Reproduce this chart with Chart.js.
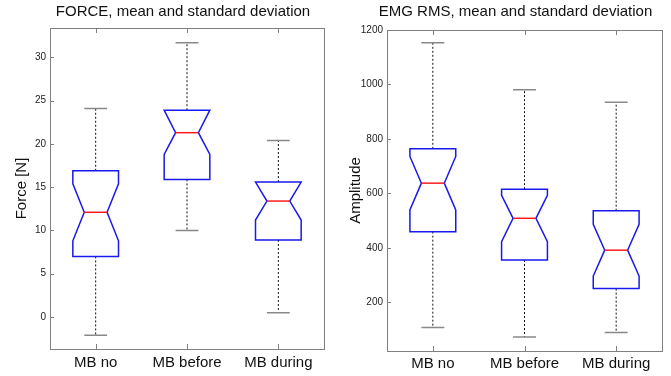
<!DOCTYPE html>
<html>
<head>
<meta charset="utf-8">
<script src="https://cdn.jsdelivr.net/npm/chart.js@4.4.0/dist/chart.umd.min.js"></script>
<style>
    body { margin: 0; background: #fff; }
    #wrap { position: relative; width: 671px; height: 376px; }
    canvas { position: absolute; top: 0; }
</style>
</head>
<body>
<div id="wrap">
    <canvas id="forceChart" width="335" height="376" style="left:0"></canvas>
    <canvas id="emgChart" width="336" height="376" style="left:335px"></canvas>
</div>
<script>
const groups = ['MB no', 'MB before', 'MB during'];

// FORCE [N]
const forceMin = [-2.1, 10.0, 0.5];
const forceQ1 = [7.0, 15.9, 8.9];
const forceMedian = [12.1, 21.3, 13.4];
const forceQ3 = [16.9, 23.9, 15.6];
const forceMax = [24.1, 31.7, 20.4];
const forceNotchLow = [8.8, 18.8, 11.2];
const forceNotchHigh = [15.4, 23.9, 15.6];
const forceTicks = [0, 5, 10, 15, 20, 25, 30];

// EMG RMS amplitude
const emgMin = [108, 73, 90];
const emgQ1 = [460, 356, 251];
const emgMedian = [638, 509, 392];
const emgQ3 = [764, 616, 537];
const emgMax = [1153, 981, 935];
const emgNotchLow = [540, 423, 297];
const emgNotchHigh = [736, 593, 487];
const emgTicks = [200, 400, 600, 800, 1000, 1200];

const axisGray = '#808080';

// draws the notched boxes on top of the (invisible) floating bars
const notchBoxPlugin = {
    id: 'notchBox',
    afterDatasetsDraw(chart) {
        const st = chart.options.plugins.notchBox;
        const meta = chart.getDatasetMeta(0);
        const y = chart.scales.y;
        const ctx = chart.ctx;
        ctx.save();
        meta.data.forEach(function (bar, i) {
            const x = bar.x;
            const h = bar.width / 2;
            const yMin = y.getPixelForValue(st.min[i]);
            const yMax = y.getPixelForValue(st.max[i]);
            const yQ1 = y.getPixelForValue(st.q1[i]);
            const yQ3 = y.getPixelForValue(st.q3[i]);
            const yMed = y.getPixelForValue(st.median[i]);
            const yNl = y.getPixelForValue(Math.max(st.notchLow[i], st.q1[i]));
            const yNh = y.getPixelForValue(Math.min(st.notchHigh[i], st.q3[i]));

            // whiskers
            ctx.strokeStyle = '#111';
            ctx.lineWidth = 1;
            ctx.setLineDash([2, 2]);
            ctx.beginPath();
            ctx.moveTo(x, yQ3); ctx.lineTo(x, yMax);
            ctx.moveTo(x, yQ1); ctx.lineTo(x, yMin);
            ctx.stroke();
            ctx.setLineDash([]);

            // caps
            ctx.strokeStyle = '#888';
            ctx.lineWidth = 1.5;
            ctx.beginPath();
            ctx.moveTo(x - h / 2, yMax); ctx.lineTo(x + h / 2, yMax);
            ctx.moveTo(x - h / 2, yMin); ctx.lineTo(x + h / 2, yMin);
            ctx.stroke();

            // notched box
            ctx.fillStyle = '#fff';
            ctx.strokeStyle = 'rgb(25,25,235)';
            ctx.lineWidth = 1.5;
            ctx.beginPath();
            ctx.moveTo(x - h, yQ3);
            ctx.lineTo(x + h, yQ3);
            ctx.lineTo(x + h, yNh);
            ctx.lineTo(x + h / 2, yMed);
            ctx.lineTo(x + h, yNl);
            ctx.lineTo(x + h, yQ1);
            ctx.lineTo(x - h, yQ1);
            ctx.lineTo(x - h, yNl);
            ctx.lineTo(x - h / 2, yMed);
            ctx.lineTo(x - h, yNh);
            ctx.closePath();
            ctx.fill();
            ctx.stroke();

            // median
            ctx.strokeStyle = '#ff1a1a';
            ctx.beginPath();
            ctx.moveTo(x - h / 2, yMed); ctx.lineTo(x + h / 2, yMed);
            ctx.stroke();
        });
        ctx.restore();
    },
    afterDraw(chart) {
        // matlab-like frame with inward ticks and a title over the axes
        const a = chart.chartArea;
        const ctx = chart.ctx;
        const st = chart.options.plugins.notchBox;
        ctx.save();
        ctx.strokeStyle = axisGray;
        ctx.lineWidth = 1;
        ctx.strokeRect(Math.round(a.left) + 0.5, Math.round(a.top) + 0.5,
            Math.round(a.right - a.left), Math.round(a.bottom - a.top));
        ctx.beginPath();
        chart.scales.y.ticks.forEach(function (t) {
            const py = Math.round(chart.scales.y.getPixelForValue(t.value)) + 0.5;
            ctx.moveTo(a.left, py); ctx.lineTo(a.left + 4, py);
        });
        chart.getDatasetMeta(0).data.forEach(function (bar) {
            const px = Math.round(bar.x) + 0.5;
            ctx.moveTo(px, a.bottom); ctx.lineTo(px, a.bottom - 5);
            ctx.moveTo(px, a.top); ctx.lineTo(px, a.top + 5);
        });
        ctx.stroke();

        ctx.fillStyle = '#111';
        ctx.font = '15px "Liberation Sans", Arial, sans-serif';
        ctx.textAlign = 'center';
        ctx.textBaseline = 'middle';
        ctx.fillText(st.title, (a.left + a.right) / 2 + st.titleShift, 12);
        ctx.restore();
    }
};

function makeBoxChart(canvasId, stats, yOpts, layout) {
    const ctx = document.getElementById(canvasId).getContext('2d');
    return new Chart(ctx, {
        type: 'bar',
        data: {
            labels: groups,
            datasets: [{
                label: stats.title,
                data: stats.q1.map(function (q, i) { return [q, stats.q3[i]]; }),
                backgroundColor: 'rgba(0,0,0,0)',
                borderWidth: 0,
                barPercentage: 0.5,
                categoryPercentage: 1
            }]
        },
        options: {
            responsive: false,
            animation: false,
            layout: { padding: layout.padding },
            scales: {
                x: {
                    grid: { display: false, drawTicks: false },
                    border: { display: false },
                    ticks: {
                        color: '#111',
                        padding: layout.xPad,
                        font: { family: '"Liberation Sans", Arial, sans-serif', size: 15 }
                    },
                    afterFit: function (scale) { scale.height = layout.xHeight; }
                },
                y: {
                    min: yOpts.min,
                    max: yOpts.max,
                    afterBuildTicks: function (scale) {
                        scale.ticks = yOpts.ticks.map(function (v) { return { value: v }; });
                    },
                    grid: { display: false, drawTicks: false },
                    border: { display: false },
                    ticks: {
                        color: '#222',
                        padding: 4,
                        font: { family: '"Liberation Sans", Arial, sans-serif', size: 10 },
                        callback: function (v) { return String(v); }
                    },
                    title: {
                        display: true,
                        text: yOpts.title,
                        color: '#111',
                        padding: { top: layout.titlePad, bottom: 0 },
                        font: { family: '"Liberation Sans", Arial, sans-serif', size: 15 }
                    },
                    afterFit: function (scale) { scale.width = layout.yWidth; }
                }
            },
            plugins: {
                legend: { display: false },
                tooltip: { enabled: false },
                notchBox: stats
            }
        },
        plugins: [notchBoxPlugin]
    });
}

makeBoxChart('forceChart', {
    title: 'FORCE, mean and standard deviation',
    titleShift: -4,
    min: forceMin, q1: forceQ1, median: forceMedian, q3: forceQ3, max: forceMax,
    notchLow: forceNotchLow, notchHigh: forceNotchHigh
}, {
    min: -3.7, max: 33.4, ticks: forceTicks, title: 'Force [N]'
}, {
    padding: { top: 28, right: 11, left: 0, bottom: 0 },
    yWidth: 50, xHeight: 27, xPad: 5, titlePad: 13
});

makeBoxChart('emgChart', {
    title: 'EMG RMS, mean and standard deviation',
    titleShift: -9,
    min: emgMin, q1: emgQ1, median: emgMedian, q3: emgQ3, max: emgMax,
    notchLow: emgNotchLow, notchHigh: emgNotchHigh
}, {
    min: 22, max: 1200, ticks: emgTicks, title: 'Amplitude'
}, {
    padding: { top: 30, right: 9, left: 0, bottom: 0 },
    yWidth: 52, xHeight: 25, xPad: 4, titlePad: 12
});
</script>
</body>
</html>
